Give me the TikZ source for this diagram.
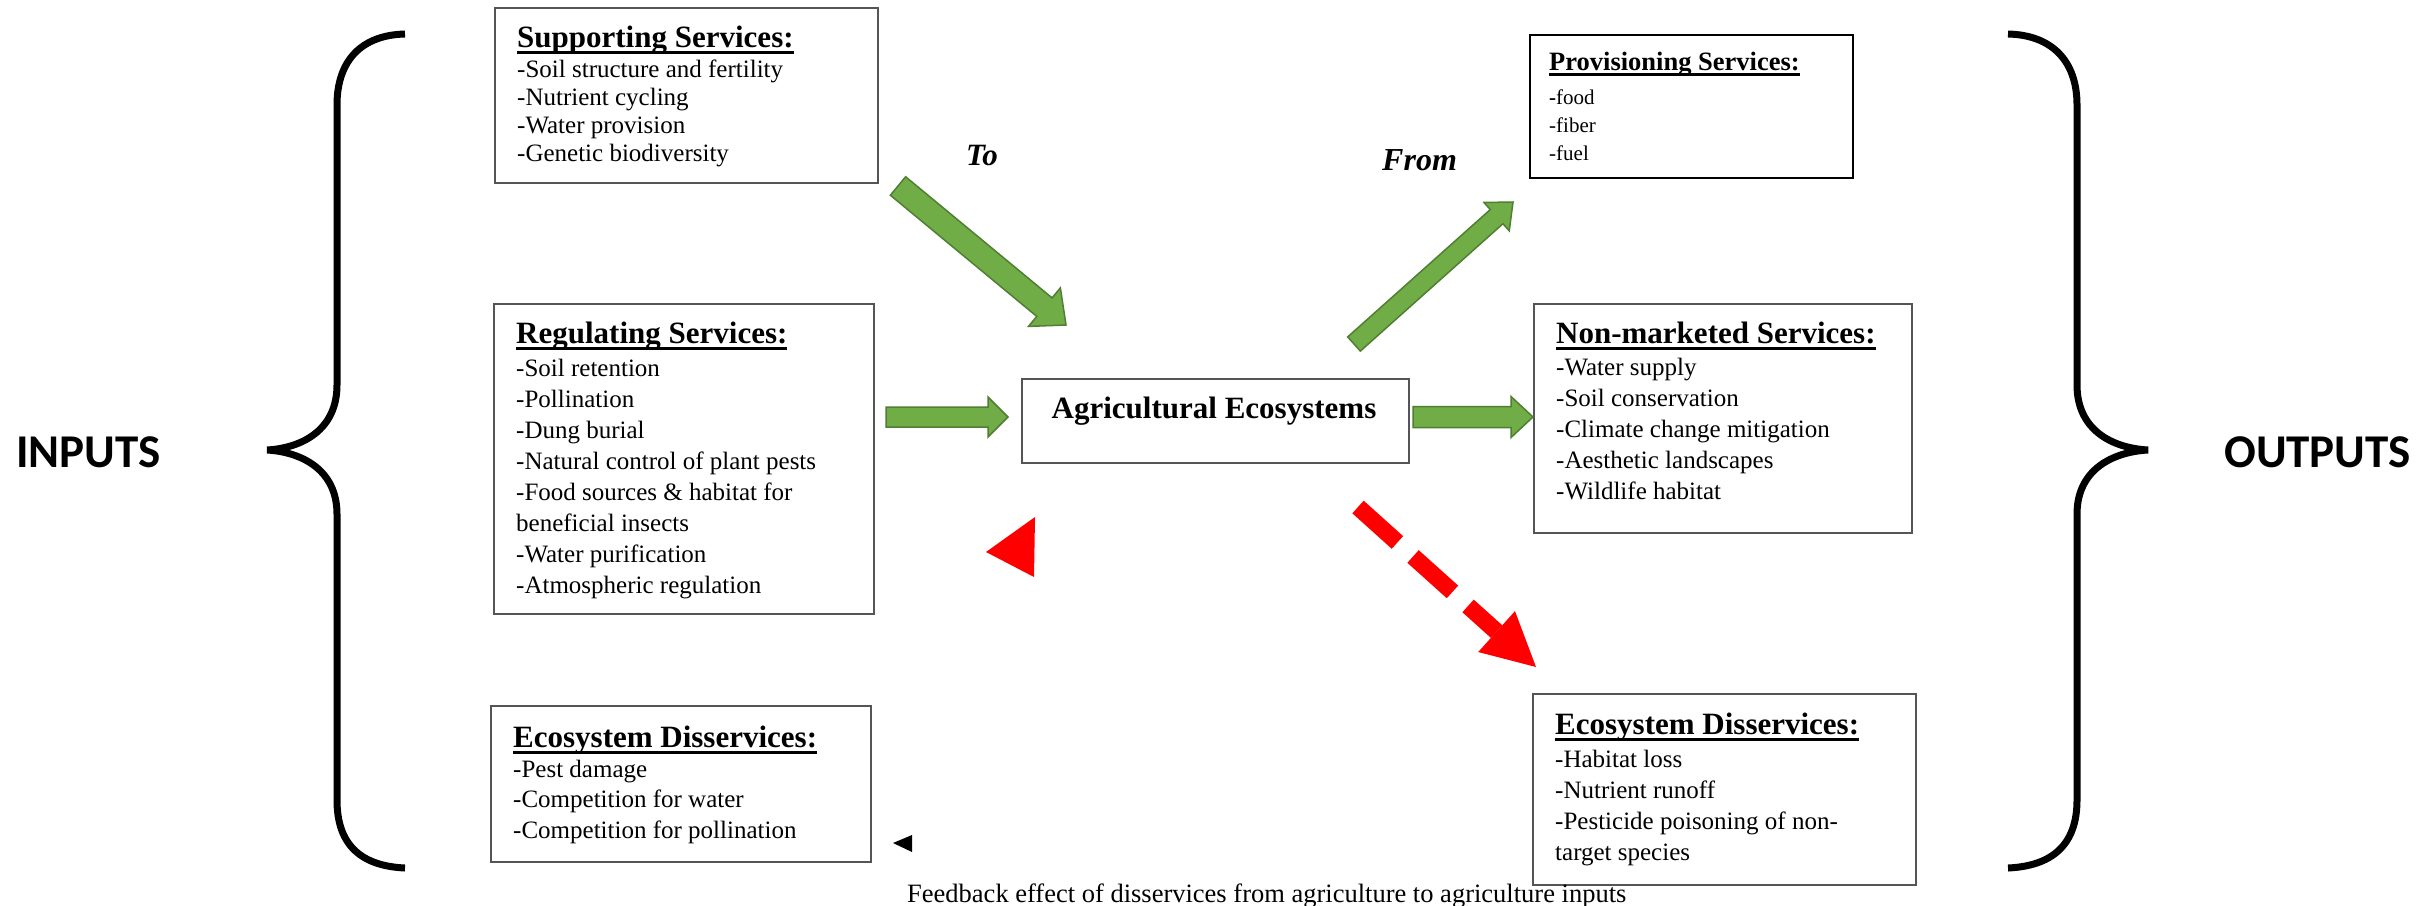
\documentclass[tikz,border=0pt]{standalone}
\usepackage{fontspec}
\setmainfont{Liberation Serif}
\newfontfamily\calib{Carlito}
\usetikzlibrary{calc}
\definecolor{agreen}{HTML}{70AD47}
\definecolor{agreendk}{HTML}{507E32}
\definecolor{boxgray}{HTML}{555555}
\definecolor{ared}{HTML}{FF0000}
\newcommand\ulin[1]{\setbox0\hbox{#1}\rlap{\rule[-0.21em]{\wd0}{0.08em}}\box0}
\newcommand\blist[2]{\vtop{\baselineskip=#1\relax\lineskiplimit=-1000pt\lineskip=0pt\halign{##\hfil\cr#2\crcr}}}
\newcommand\blockarrow[6]{%
  \coordinate (ba-h) at ($(#3)!#6!(#2)$);
  \draw[#1] ($(#2)!#4!90:(#3)$) -- ($(ba-h)!#4!90:(#3)$) -- ($(ba-h)!#5!90:(#3)$) -- (#3)
    -- ($(ba-h)!#5!-90:(#3)$) -- ($(ba-h)!#4!-90:(#3)$) -- ($(#2)!#4!-90:(#3)$) -- cycle;}
\tikzset{
  box/.style={draw=boxgray, line width=2bp, anchor=north west, inner sep=0pt, fill=white},
  ttl/.style={anchor=base west, inner sep=0pt, font=\fontsize{31bp}{34bp}\selectfont\bfseries},
  bodytext/.style={anchor=base west, inner sep=0pt, font=\fontsize{25bp}{28bp}\selectfont},
  garrow/.style={fill=agreen, draw=agreendk, line width=1.5bp, line join=miter},
  brace/.style={line width=7bp, draw=black},
  sidelabel/.style={inner sep=0pt, font=\calib\bfseries\fontsize{47bp}{50bp}\selectfont},
  dirlabel/.style={anchor=base west, inner sep=0pt, font=\fontsize{32bp}{34bp}\selectfont\bfseries\itshape},
}
\begin{document}
\begin{tikzpicture}[x=1bp,y=-1bp]
\useasboundingbox (0,0) rectangle (2436,905);
\fill[white] (0,0) rectangle (2436,905);

% braces
\draw[brace] (405,34) .. controls (362,35) and (337,60) .. (337,105) -- (337,385)
  .. controls (337,430) and (302,448) .. (267,450)
  .. controls (302,452) and (337,470) .. (337,514) -- (337,800)
  .. controls (337,846) and (362,866) .. (405,868);
\draw[brace] (2008,34) .. controls (2051,35) and (2077,60) .. (2077,105) -- (2077,385)
  .. controls (2077,430) and (2112,448) .. (2148,450)
  .. controls (2112,452) and (2077,470) .. (2077,514) -- (2077,800)
  .. controls (2077,846) and (2051,866) .. (2008,868);
\node[sidelabel, anchor=west] (inputs) at (16,452) {INPUTS};
\node[sidelabel, anchor=west] (outputs) at (2224,452) {OUTPUTS};

% Supporting services
\node[box, minimum width=383bp, minimum height=175bp] (sup) at (494,7) {};
\node[ttl] (supt) at (517,47) {\ulin{Supporting Services:}};
\node[bodytext] (supb) at (517,77) {\blist{28bp}{-Soil structure and fertility\cr -Nutrient cycling\cr -Water provision\cr -Genetic biodiversity}};

% Regulating services
\node[box, minimum width=380bp, minimum height=310bp] (reg) at (493,303) {};
\node[ttl] (regt) at (516,343) {\ulin{Regulating Services:}};
\node[bodytext] (regb) at (516,376) {\blist{31bp}{-Soil retention\cr -Pollination\cr -Dung burial\cr -Natural control of plant pests\cr -Food sources \& habitat for\cr beneficial insects\cr -Water purification\cr -Atmospheric regulation}};

% Ecosystem disservices (inputs)
\node[box, minimum width=380bp, minimum height=156bp] (disin) at (490,705) {};
\node[ttl] (disint) at (513,747) {\ulin{Ecosystem Disservices:}};
\node[bodytext] (disinb) at (513,777) {\blist{30.5bp}{-Pest damage\cr -Competition for water\cr -Competition for pollination}};

% Provisioning services
\node[box, draw=black, minimum width=323bp, minimum height=143bp] (prov) at (1529,34) {};
\node[ttl, font=\fontsize{26.5bp}{29bp}\selectfont\bfseries] (provt) at (1549,70) {\ulin{Provisioning Services:}};
\node[bodytext, font=\fontsize{21bp}{24bp}\selectfont] (provb) at (1549,104) {\blist{28bp}{\textbf{-}food\cr -fiber\cr -fuel}};

% Non-marketed services
\node[box, minimum width=378bp, minimum height=229bp] (nonm) at (1533,303) {};
\node[ttl] (nonmt) at (1556,343) {\ulin{Non-marketed Services:}};
\node[bodytext] (nonmb) at (1556,375) {\blist{31bp}{-Water supply\cr -Soil conservation\cr -Climate change mitigation\cr -Aesthetic landscapes\cr -Wildlife habitat}};

% Ecosystem disservices (outputs)
\node[box, minimum width=383bp, minimum height=191bp] (disout) at (1532,693) {};
\node[ttl] (disoutt) at (1555,734) {\ulin{Ecosystem Disservices:}};
\node[bodytext] (disoutb) at (1555,767) {\blist{31bp}{-Habitat loss\cr -Nutrient runoff\cr -Pesticide poisoning of non-\cr target species}};

% Agricultural ecosystems
\node[box, minimum width=387bp, minimum height=84bp] (agr) at (1021,378) {};
\node[ttl, anchor=base] (agrt) at (1214,418) {Agricultural Ecosystems};

% To / From
\node[dirlabel, font=\fontsize{31bp}{34bp}\selectfont\bfseries\itshape] (to) at (966,165) {To};
\node[dirlabel] (from) at (1382,170) {From};

% green arrows
\coordinate (toA) at (898,186);   \coordinate (toB) at (1066,325);
\coordinate (frA) at (1354,344);  \coordinate (frB) at (1513,202);
\coordinate (inA) at (886,417);   \coordinate (inB) at (1008,417);
\coordinate (outA) at (1413,417); \coordinate (outB) at (1533,417);
\blockarrow{garrow}{toA}{toB}{12bp}{25bp}{28bp}
\blockarrow{garrow}{frA}{frB}{9.5bp}{19bp}{22bp}
\blockarrow{garrow}{inA}{inB}{10bp}{20bp}{20bp}
\blockarrow{garrow}{outA}{outB}{10.5bp}{20.5bp}{22bp}

% red dashed arrow
\coordinate (rdA) at (1358,507);
\coordinate (rdB) at (1536,667);
\coordinate (rdH) at ($(rdB)!53bp!(rdA)$);
\draw[ared, line width=17bp, dash pattern=on 53bp off 21bp] (rdA) -- (rdH);
\fill[ared] ($(rdH)!27.5bp!90:(rdB)$) -- (rdB) -- ($(rdH)!27.5bp!-90:(rdB)$) -- cycle;

% feedback arrowheads
\fill[ared] (1035,517) -- (1034,577) -- (986,552) -- cycle;
\fill[black] (912,835) -- (912,852) -- (893,843) -- cycle;

% caption
\node[anchor=base west, inner sep=0pt, font=\fontsize{26.5bp}{28bp}\selectfont] (cap) at (907,902) {Feedback effect of disservices from agriculture to agriculture inputs};
\end{tikzpicture}
\end{document}
